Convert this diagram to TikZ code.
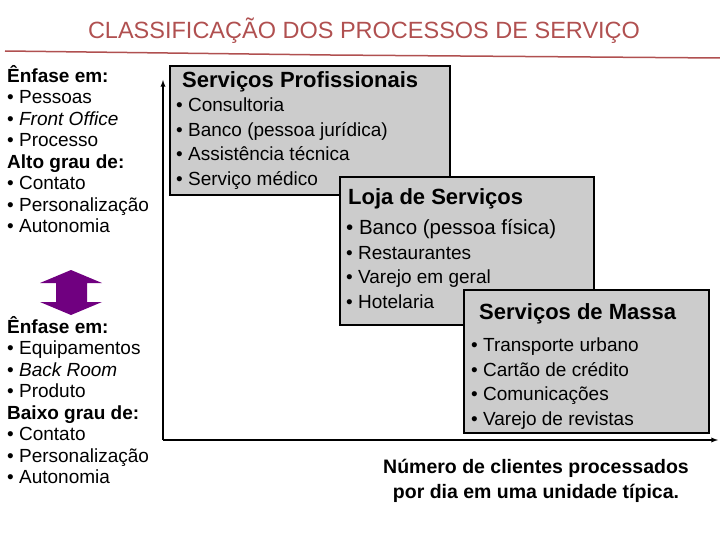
\documentclass[tikz,border=0pt]{standalone}
\usepackage{fontspec}
\setmainfont{Liberation Sans}
\begin{document}
\begin{tikzpicture}[x=1pt,y=-1pt,
  box/.style={draw=black,line width=1.6pt,fill=black!20},
  ttl/.style={anchor=base west,inner sep=0pt,font=\fontsize{22}{24}\bfseries\selectfont},
  lst/.style={anchor=north west,inner sep=0pt,align=left,font=\fontsize{19}{24.6}\selectfont},
  lft/.style={anchor=north west,inner sep=0pt,align=left,font=\fontsize{19}{21.5}\selectfont}]
\useasboundingbox (0,0) rectangle (720,540);
\definecolor{tred}{RGB}{176,80,80}
\node[inner sep=0pt,text=tred] (title) at (364,31) {\fontsize{23.5}{26}\selectfont CLASSIFICAÇÃO DOS PROCESSOS DE SERVIÇO};
\draw[tred,line width=1.5pt] (5,51) -- (330,55) -- (720,58);
% axes
\coordinate (o) at (163,440);
\coordinate (ytop) at (163,80);
\coordinate (xend) at (718,440);
\draw[line width=1.3pt,-latex] (o) -- (ytop);
\draw[line width=1.3pt,-latex] (o) -- (xend);
% boxes
\path[box] (170,66) rectangle (450,195);
\node[ttl] (p) at (182,88) {Serviços Profissionais};
\node[lst] (pl) at (176,94) {\strut• Consultoria\\• Banco (pessoa jurídica)\\• Assistência técnica\\• Serviço médico};
\path[box] (340,177) rectangle (594,325);
\node[ttl] (l) at (348,205) {Loja de Serviços};
\node[lst] (ll) at (346,217) {\strut{\fontsize{20.5}{24.6}\selectfont• Banco (pessoa física)}\\• Restaurantes\\• Varejo em geral\\• Hotelaria};
\path[box] (464,290) rectangle (709,433);
\node[ttl] (m) at (479,319) {Serviços de Massa};
\node[lst] (ml) at (471,334) {\strut• Transporte urbano\\• Cartão de crédito\\• Comunicações\\• Varejo de revistas};
% left text
\node[lft] (e1) at (7,65) {\strut\textbf{Ênfase em:}\\• Pessoas\\• \textit{Front Office}\\• Processo\\\textbf{Alto grau de:}\\• Contato\\• Personalização\\• Autonomia};
\node[lft] (e2) at (7,316) {\strut\textbf{Ênfase em:}\\• Equipamentos\\• \textit{Back Room}\\• Produto\\\textbf{Baixo grau de:}\\• Contato\\• Personalização\\• Autonomia};
\definecolor{purp}{RGB}{112,0,128}
\fill[purp] (71,270) -- (102,283) -- (87,283) -- (87,302) -- (102,302) -- (71,315) -- (40,302) -- (56,302) -- (56,283) -- (40,283) -- cycle;
\node[align=center,font=\fontsize{19.5}{25}\bfseries\selectfont,inner sep=0pt] (xl) at (536,481) {Número de clientes processados\\por dia em uma unidade típica.};
\end{tikzpicture}
\end{document}
